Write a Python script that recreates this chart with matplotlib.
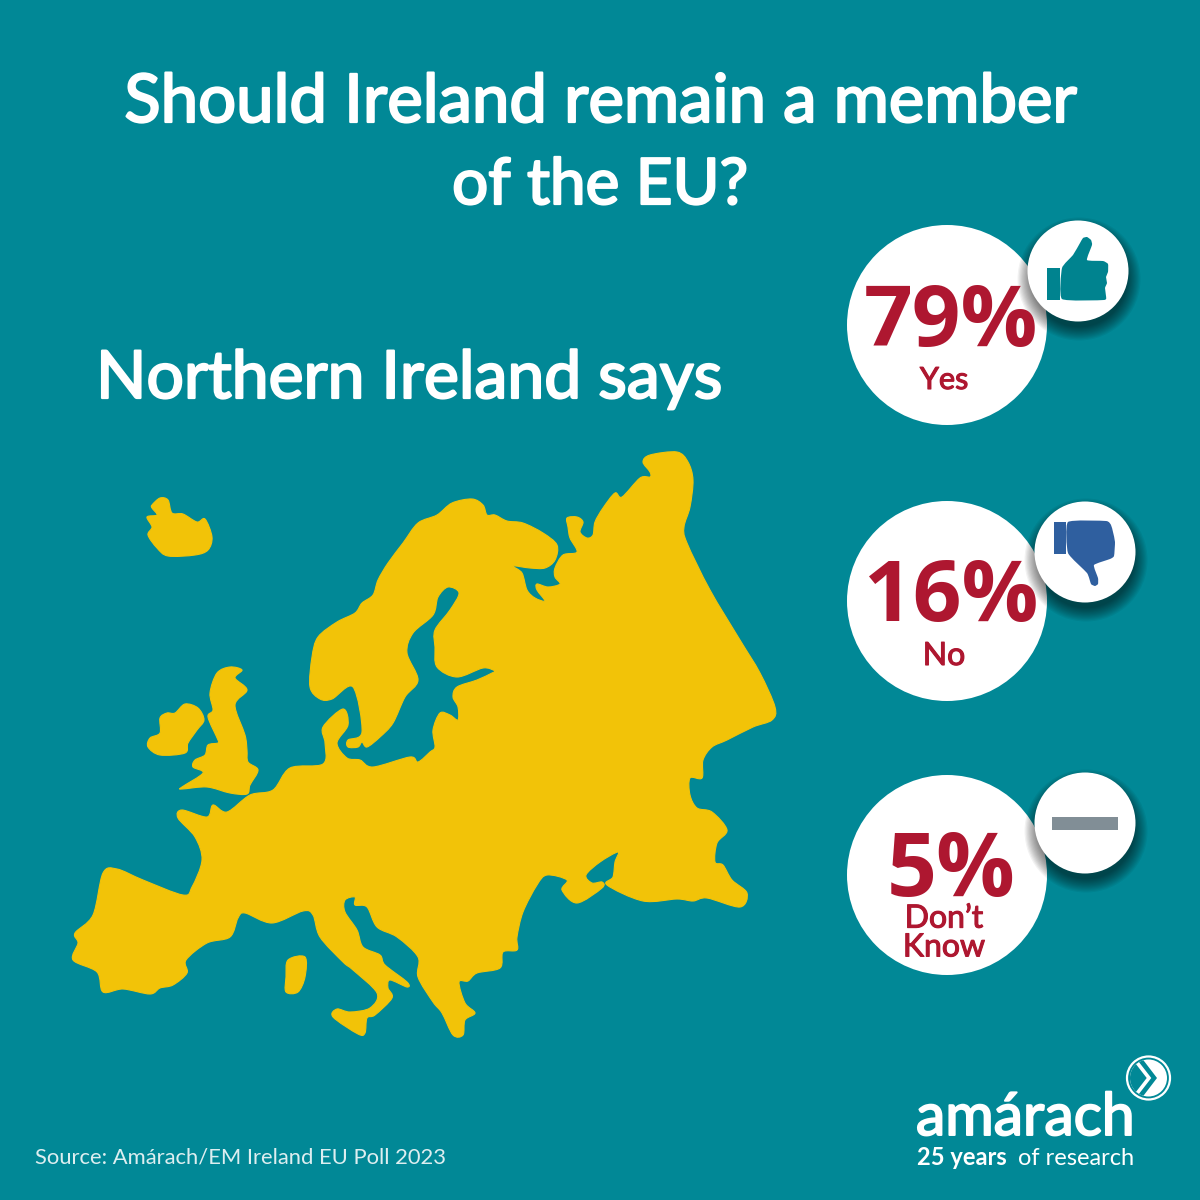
import numpy as np
import matplotlib
matplotlib.use("Agg")
import matplotlib.pyplot as plt
import matplotlib.patheffects as pe
from matplotlib.patches import Circle, PathPatch, Rectangle, Polygon
from matplotlib.path import Path

# ---- content
title_lines = ["Should Ireland remain a member", "of the EU?"]
subtitle = "Northern Ireland says"
source = "Source: Amárach/EM Ireland EU Poll 2023"
percent_values = [79, 16, 5]
answer_labels = ["Yes", "No", "Don’t\nKnow"]

# ---- colours
BG = "#018896"
YELLOW = "#F2C308"
RED = "#AE1730"
TEAL = "#00838F"
BLUE = "#2F5F9F"
GREY = "#818E96"

# ---- illustration outlines (pixel coordinates of the artwork)
mainland = [(310,687),(312,657),(318,637),(337,622),(355,613),(362,603),(373,595),(378,580),(388,563),(403,543),(418,523),
(437,515),(452,503),(472,499),(483,505),(487,515),(495,515),(507,521),(523,523),(543,533),(557,545),(555,560),(545,568),(530,568),(513,566),
(522,573),(527,590),(535,598),(545,601),(537,590),(537,584),(548,587),(560,584),(555,577),(555,568),(563,555),(577,552),(570,538),(568,527),(567,518),
(577,517),(583,522),(580,532),(587,538),(593,535),(595,522),(603,508),(615,493),(622,497),(640,478),(650,477),(650,472),(643,462),(650,455),
(677,452),(688,462),(693,480),(690,507),(684,527),(687,543),(710,590),(740,640),(760,673),(775,707),(772,720),(753,727),(727,740),
(712,747),(703,760),(702,778),(690,778),(690,795),(697,808),(712,812),(727,830),(717,843),(715,862),(723,865),(732,880),(747,893),(740,907),
(707,898),(693,901),(677,899),(643,901),(607,885),(613,877),(615,862),(618,852),(600,862),(586,875),(592,883),(602,882),(602,888),(577,903),
(562,890),(567,880),(547,875),(537,885),(523,912),(517,937),(517,950),(503,952),(500,968),(477,973),(468,981),(459,982),(465,1003),(475,1013),
(465,1020),(463,1035),(453,1035),(442,1013),(433,1002),(418,977),(418,957),(397,937),(377,927),(367,907),(355,905),(355,897),(345,900),(345,912),
(357,930),(363,947),(380,955),(385,965),(407,982),(407,987),(390,980),(388,988),(392,998),(375,1015),(367,1018),(365,1033),(358,1034),(333,1017),
(337,1009),(350,1012),(370,1008),(377,993),(353,970),(343,962),(320,937),(313,915),(303,911),(272,923),(245,913),(238,918),(230,937),(207,943),
(186,960),(187,973),(173,985),(160,988),(150,994),(123,989),(103,992),(97,972),(73,960),(78,943),(75,933),(93,915),(103,873),(117,869),(143,880),
(183,895),(192,887),(202,860),(195,837),(178,818),(182,810),(207,817),(213,805),(227,812),(250,795),(273,790),(290,768),(323,764),(325,743),
(323,727),(343,709),(348,725),(337,743),(347,758),(360,760),(373,767),(410,757),(418,762),(430,752),(435,747),(433,730),(440,713),(450,715),
(458,720),(458,707),(453,697),(457,687),(477,680),(492,673),(495,671),(483,668),(457,677),(437,667),(435,647),(435,630),(450,610),(459,593),
(448,587),(438,597),(433,615),(413,633),(407,653),(418,680),(405,697),(393,723),(380,737),(367,747),(362,742),(358,747),(348,747),(348,740),
(362,732),(353,687),(332,699),(320,699)]
britain = [(230,667),(242,670),(235,678),(247,690),(235,705),(245,735),(247,750),(248,762),(258,770),(250,785),(247,794),(230,793),(207,787),(182,789),
(182,787),(203,773),(193,767),(195,760),(205,755),(208,745),(218,743),(218,740),(208,717),(213,710),(210,693),(217,673)]
ireland = [(150,738),(160,733),(160,718),(167,713),(175,713),(185,704),(198,708),(204,720),(197,730),(188,743),(185,753),(160,755),(148,747)]
iceland = [(152,505),(160,498),(168,500),(172,513),(183,514),(197,522),(205,519),(212,537),(208,550),(195,555),(168,556),(157,548),(148,535),(152,527),(147,517),(157,515),(152,508)]
corsica = [(288,960),(305,957),(305,977),(298,992),(286,992),(286,977)]

thumb_up = [(1062,268),(1073,255),(1080,243),(1083,238),(1087,237),(1091,240),(1092,245),(1087,260),(1103,261),(1108,264),(1108,272),(1106,277),(1107,283),(1105,288),(1106,296),(1104,300),(1062,299)]
thumb_down = [(1068,522),(1106,521),(1111,525),(1113,532),(1115,542),(1114,556),(1110,559),(1094,565),(1098,578),(1098,584),(1095,586),(1091,584),(1087,573),(1068,553)]


def smooth(points, t=0.16):
    p = np.array(points, float)
    n = len(p)
    verts, codes = [p[0]], [Path.MOVETO]
    for i in range(n):
        a, b, c, d = p[i-1], p[i], p[(i+1) % n], p[(i+2) % n]
        verts += [b + (c-a)*t, c - (d-b)*t, c]
        codes += [Path.CURVE4]*3
    return Path(verts, codes)


def heavy(colour, width):
    return [pe.withStroke(linewidth=width, foreground=colour)]


fig = plt.figure(figsize=(12, 12), dpi=100, facecolor=BG)
ax = fig.add_axes([0, 0, 1, 1])
ax.set_xlim(0, 1200); ax.set_ylim(1200, 0); ax.axis("off")

FONT = "Lato"
ax.text(601, 122, title_lines[0], color="white", fontsize=48.3, family=FONT, ha="center", va="baseline", path_effects=heavy("white", 1.6))
ax.text(600, 204, title_lines[1], color="white", fontsize=46, family=FONT, ha="center", va="baseline", path_effects=heavy("white", 1.6))
ax.text(96, 398, subtitle, color="white", fontsize=47.6, family=FONT, ha="left", va="baseline", path_effects=heavy("white", 1.6))

for shape in [mainland, britain, ireland, iceland, corsica]:
    ax.add_patch(PathPatch(smooth(shape), fc=YELLOW, ec=YELLOW, lw=0.8, joinstyle="round", zorder=2))

big_centres = [(947, 325), (947, 601), (947, 875)]
small_centres = [(1078, 271), (1085, 552), (1085, 823)]
for (cx, cy), (sx, sy) in zip(big_centres, small_centres):
    ax.add_patch(Circle((cx, cy), 100, fc="white", ec="none", zorder=3))
    for k in range(12):
        ax.add_patch(Circle((sx+1, sy+8), 50.5+11-k*1.2, fc="black", ec="none", alpha=0.05, zorder=4))
    ax.add_patch(Circle((sx, sy), 50.5, fc="white", ec="none", zorder=5))

# icons
ax.add_patch(Rectangle((1047, 268), 13, 32, fc=TEAL, ec="none", zorder=6))
ax.add_patch(PathPatch(smooth(thumb_up, 0.08), fc=TEAL, ec="none", zorder=6))
ax.add_patch(Rectangle((1054, 522), 12, 32, fc=BLUE, ec="none", zorder=6))
ax.add_patch(PathPatch(smooth(thumb_down, 0.08), fc=BLUE, ec="none", zorder=6))
ax.add_patch(Rectangle((1052, 817), 66, 13, fc=GREY, ec="none", zorder=6))

# values
value_x = [951, 951, 951.5]
value_base = [346, 621, 896]
value_size = [61.5, 61.5, 63]
for i, v in enumerate(percent_values):
    ax.text(value_x[i], value_base[i], f"{v}%", color=RED, fontsize=value_size[i], fontweight="bold", family="Open Sans",
            ha="center", va="baseline", zorder=7)
label_kw = dict(color=RED, family=FONT, ha="center", va="center", zorder=7, path_effects=heavy(RED, 0.8))
ax.text(944, 380, answer_labels[0], fontsize=22, **label_kw)
ax.text(944, 656, answer_labels[1], fontsize=23, **label_kw)
ax.text(944, 933, answer_labels[2], fontsize=23, linespacing=0.95, **label_kw)

# footer
ax.text(35, 1164, source, color="#DDEEF0", fontsize=15.85, family=FONT, ha="left", va="baseline")
ax.text(916, 1135, "amárach", color="white", fontsize=42.4, family=FONT, ha="left", va="baseline", path_effects=heavy("white", 1.4))
ax.text(917, 1165, "25 years", color="white", fontsize=17, fontweight="bold", family=FONT, ha="left", va="baseline")
ax.text(1134, 1165, "of research", color="white", fontsize=17, family=FONT, ha="right", va="baseline")

# logo mark
ax.add_patch(Circle((1148.5, 1078), 21.5, fc="none", ec="white", lw=1.6))
disc = Circle((1148.5, 1078), 18.5, fc="white", ec="none", zorder=2)
ax.add_patch(disc)
wedge = Polygon([(1120, 1044), (1131, 1044), (1157, 1078), (1131, 1112), (1120, 1112)], closed=True, fc=BG, ec="none", zorder=3)
ax.add_patch(wedge)
wedge.set_clip_path(disc)
chevron, = ax.plot([1125, 1149, 1125], [1047, 1078, 1109], color="white", lw=2.6, solid_joinstyle="miter", zorder=4)
chevron.set_clip_path(disc)

fig.savefig("out.png", dpi=100, facecolor=BG)
